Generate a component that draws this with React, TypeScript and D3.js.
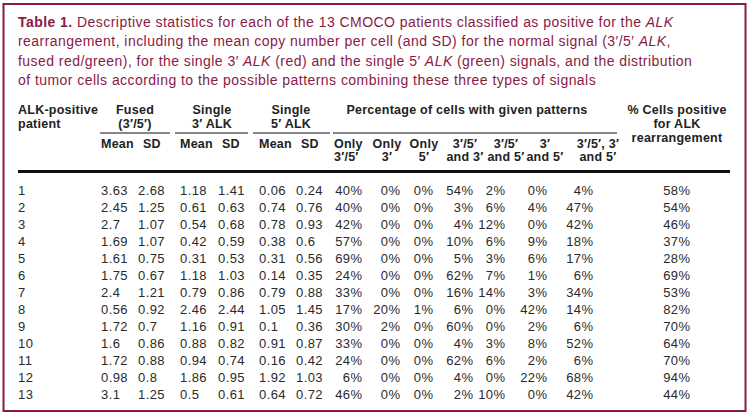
import React from "react";
import * as d3 from "d3";

const patients = [1, 2, 3, 4, 5, 6, 7, 8, 9, 10, 11, 12, 13];
const fusedMean = [3.63, 2.45, 2.7, 1.69, 1.61, 1.75, 2.4, 0.56, 1.72, 1.6, 1.72, 0.98, 3.1];
const fusedSD = [2.68, 1.25, 1.07, 1.07, 0.75, 0.67, 1.21, 0.92, 0.7, 0.86, 0.88, 0.8, 1.25];
const single3Mean = [1.18, 0.61, 0.54, 0.42, 0.31, 1.18, 0.79, 2.46, 1.16, 0.88, 0.94, 1.86, 0.5];
const single3SD = [1.41, 0.63, 0.68, 0.59, 0.53, 1.03, 0.86, 2.44, 0.91, 0.82, 0.74, 0.95, 0.61];
const single5Mean = [0.06, 0.74, 0.78, 0.38, 0.31, 0.14, 0.79, 1.05, 0.1, 0.91, 0.16, 1.92, 0.64];
const single5SD = [0.24, 0.76, 0.93, 0.6, 0.56, 0.35, 0.88, 1.45, 0.36, 0.87, 0.42, 1.03, 0.72];
const onlyFused = [40, 40, 42, 57, 69, 24, 33, 17, 30, 33, 24, 6, 46];
const only3 = [0, 0, 0, 0, 0, 0, 0, 20, 2, 0, 0, 0, 0];
const only5 = [0, 0, 0, 0, 0, 0, 0, 1, 0, 0, 0, 0, 0];
const fusedAnd3 = [54, 3, 4, 10, 5, 62, 16, 6, 60, 4, 62, 4, 2];
const fusedAnd5 = [2, 6, 12, 6, 3, 7, 14, 0, 0, 3, 6, 0, 10];
const three5 = [0, 4, 0, 9, 6, 1, 3, 42, 2, 8, 2, 22, 0];
const allThree = [4, 47, 42, 18, 17, 6, 34, 14, 6, 52, 6, 68, 42];
const cellsPositive = [58, 54, 46, 37, 28, 69, 53, 82, 70, 64, 70, 94, 44];

const MAROON = "#8a1a45";
const FONT = "'Liberation Sans', Arial, Helvetica, sans-serif";

export default function App() {
  const W = 749, H = 417;
  const y = d3.scaleLinear().domain([0, patients.length - 1]).range([190, 394]);
  const pct = (v: number) => `${v}%`;
  const num = (v: number) => String(v);

  const leftCols: { x: number; vals: number[] }[] = [
    { x: 101, vals: fusedMean },
    { x: 138, vals: fusedSD },
    { x: 180, vals: single3Mean },
    { x: 218, vals: single3SD },
    { x: 259, vals: single5Mean },
    { x: 296, vals: single5SD },
  ];
  const rightCols: { x: number; vals: number[] }[] = [
    { x: 362, vals: onlyFused },
    { x: 400, vals: only3 },
    { x: 433, vals: only5 },
    { x: 473, vals: fusedAnd3 },
    { x: 505, vals: fusedAnd5 },
    { x: 547, vals: three5 },
    { x: 593, vals: allThree },
    { x: 690, vals: cellsPositive },
  ];

  const hs = { fontFamily: FONT, fontSize: 12.5, fontWeight: 700, fill: "#222", letterSpacing: 0.25 } as const;
  const ds = { fontFamily: FONT, fontSize: 13, fill: "#2a2a2a", letterSpacing: 0.4 } as const;
  const cs = { fontFamily: FONT, fontSize: 14, fill: MAROON, letterSpacing: 0.45 } as const;
  const P = "\u2032";

  const subHeads: { x: number; l1: string; l2: string; anchor: "start" | "middle" }[] = [
    { x: 334, l1: "Only", l2: `3${P}/5${P}`, anchor: "start" },
    { x: 387, l1: "Only", l2: `3${P}`, anchor: "middle" },
    { x: 424, l1: "Only", l2: `5${P}`, anchor: "middle" },
    { x: 465, l1: `3${P}/5${P}`, l2: `and 3${P}`, anchor: "middle" },
    { x: 506, l1: `3${P}/5${P}`, l2: `and 5${P}`, anchor: "middle" },
    { x: 545, l1: `3${P}`, l2: `and 5${P}`, anchor: "middle" },
    { x: 598, l1: `3${P}/5${P}, 3${P}`, l2: `and 5${P}`, anchor: "middle" },
  ];

  return (
    <svg width={W} height={H} style={{ position: "absolute", left: 0, top: 0, background: "#fff" }}>
      <rect x={0} y={0} width={W} height={H} fill="#fff" />
      <rect x={3.5} y={4} width={742} height={407} fill="none" stroke={MAROON} strokeWidth={2} />

      <text x={18} y={27} style={cs}>
        <tspan fontWeight={700}>Table 1.</tspan> Descriptive statistics for each of the 13 CMOCO patients classified as positive for the{" "}
        <tspan fontStyle="italic">ALK</tspan>
      </text>
      <text x={18} y={46} style={cs}>
        rearrangement, including the mean copy number per cell (and SD) for the normal signal (3{P}/5{P}{" "}
        <tspan fontStyle="italic">ALK</tspan>,
      </text>
      <text x={18} y={66} style={cs}>
        fused red/green), for the single 3{P} <tspan fontStyle="italic">ALK</tspan> (red) and the single 5{P}{" "}
        <tspan fontStyle="italic">ALK</tspan> (green) signals, and the distribution
      </text>
      <text x={18} y={85} style={cs}>
        of tumor cells according to the possible patterns combining these three types of signals
      </text>

      <text x={18} y={114} style={hs}>ALK-positive</text>
      <text x={18} y={128} style={hs}>patient</text>

      <text x={135} y={114} textAnchor="middle" style={hs}>Fused</text>
      <text x={135} y={128} textAnchor="middle" style={hs}>(3{P}/5{P})</text>
      <text x={212} y={114} textAnchor="middle" style={hs}>Single</text>
      <text x={212} y={128} textAnchor="middle" style={hs}>3{P} ALK</text>
      <text x={291} y={114} textAnchor="middle" style={hs}>Single</text>
      <text x={291} y={128} textAnchor="middle" style={hs}>5{P} ALK</text>
      <text x={467} y={114} textAnchor="middle" style={hs}>Percentage of cells with given patterns</text>

      <text x={677} y={114} textAnchor="middle" style={hs}>% Cells positive</text>
      <text x={677} y={128} textAnchor="middle" style={hs}>for ALK</text>
      <text x={677} y={142} textAnchor="middle" style={hs}>rearrangement</text>

      {[[100, 170], [175, 248], [253, 330], [333, 617]].map(([a, b], i) => (
        <line key={i} x1={a} x2={b} y1={133} y2={133} stroke="#111" strokeWidth={1} />
      ))}

      {[101, 180, 259].map((x, i) => (
        <g key={i}>
          <text x={x} y={148} style={hs}>Mean</text>
          <text x={x + 42} y={148} style={hs}>SD</text>
        </g>
      ))}
      {subHeads.map((s, i) => (
        <g key={i}>
          <text x={s.x} y={148} textAnchor={s.anchor} style={hs}>{s.l1}</text>
          <text x={s.x} y={161} textAnchor={s.anchor} style={hs}>{s.l2}</text>
        </g>
      ))}

      <line x1={18} x2={730} y1={171.5} y2={171.5} stroke="#111" strokeWidth={3} />

      {patients.map((p, i) => (
        <g key={p}>
          <text x={18} y={y(i) + 4.5} style={ds}>{p}</text>
          {leftCols.map((c, j) => (
            <text key={j} x={c.x} y={y(i) + 4.5} style={ds}>{num(c.vals[i])}</text>
          ))}
          {rightCols.map((c, j) => (
            <text key={"r" + j} x={c.x + 0.4} y={y(i) + 4.5} textAnchor="end" style={ds}>{pct(c.vals[i])}</text>
          ))}
        </g>
      ))}
    </svg>
  );
}
